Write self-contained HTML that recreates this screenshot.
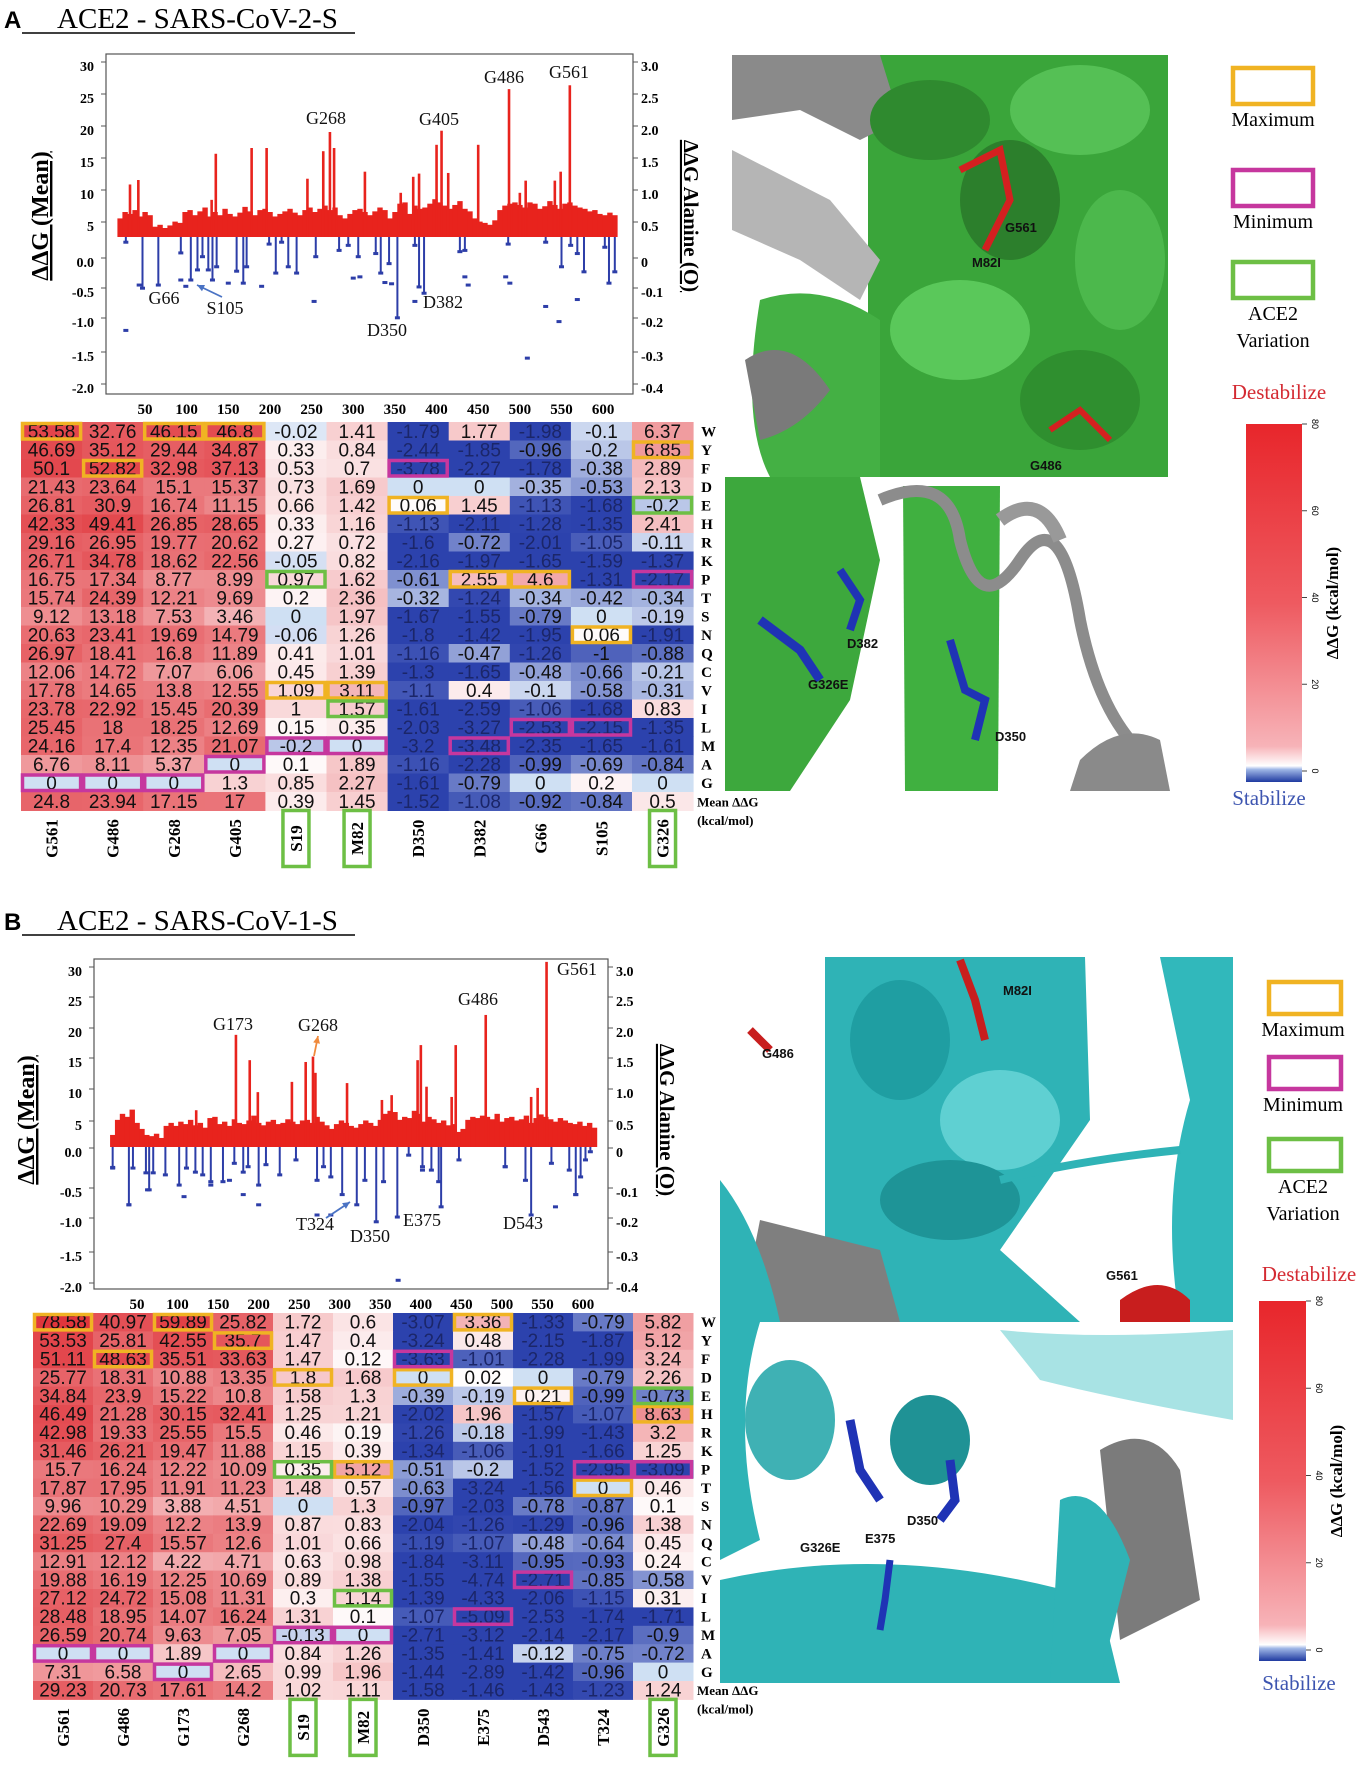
<!DOCTYPE html>
<html><head><meta charset="utf-8">
<style>
html,body{margin:0;padding:0;background:#fff;}
svg{display:block;}
.serif{font-family:"Liberation Serif",serif;}
.sans{font-family:"Liberation Sans",sans-serif;}
</style></head>
<body>
<svg id="fig" width="1361" height="1772" viewBox="0 0 1361 1772" xmlns="http://www.w3.org/2000/svg">
<defs>
<linearGradient id="cbar" x1="0" y1="0" x2="0" y2="1">
<stop offset="0" stop-color="#e8262b"/><stop offset="0.5" stop-color="#ee5a60"/><stop offset="0.9" stop-color="#f7b3b8"/><stop offset="0.955" stop-color="#ffffff"/><stop offset="0.965" stop-color="#9fb6e6"/><stop offset="1" stop-color="#1f3aa0"/>
</linearGradient>
</defs>
<g id="imgA">
<rect x="732" y="55" width="436" height="422" fill="#ffffff"/>
<rect x="868" y="55" width="300" height="422" fill="#3aa53a"/>
<path d="M732 55 L880 55 L900 120 L860 140 L800 110 L732 120 Z" fill="#8a8a8a"/>
<path d="M732 150 L830 200 L880 260 L860 300 L800 260 L732 230 Z" fill="#b5b5b5"/>
<path d="M760 300 Q820 280 880 320 L880 477 L770 477 Q740 420 760 300 Z" fill="#44b044"/>
<path d="M745 360 Q790 330 830 390 Q800 430 760 440 Z" fill="#7a7a7a"/>
<ellipse cx="930" cy="120" rx="60" ry="40" fill="#2f8a2f"/>
<ellipse cx="1080" cy="110" rx="70" ry="45" fill="#55c055"/>
<ellipse cx="1010" cy="200" rx="50" ry="60" fill="#2c7f2c"/>
<ellipse cx="1120" cy="260" rx="45" ry="70" fill="#4cb84c"/>
<ellipse cx="960" cy="330" rx="70" ry="50" fill="#5ac85a"/>
<ellipse cx="1080" cy="400" rx="60" ry="50" fill="#2f8f2f"/>
<path d="M960 170 L1000 150 L1010 200 L985 250" stroke="#d42020" stroke-width="7" fill="none"/>
<path d="M1050 430 L1080 410 L1110 440" stroke="#d42020" stroke-width="6" fill="none"/>
<text x="972" y="267" class="sans" font-size="13" font-weight="bold" fill="#111">M82I</text>
<text x="1005" y="232" class="sans" font-size="13" font-weight="bold" fill="#111">G561</text>
<text x="1030" y="470" class="sans" font-size="13" font-weight="bold" fill="#111">G486</text>
<rect x="725" y="477" width="464" height="314" fill="#ffffff"/>
<path d="M725 477 L860 477 L880 560 L850 700 L790 791 L725 791 Z" fill="#3da83d"/>
<path d="M903 486 L1000 486 L998 791 L905 791 Z" fill="#40b040"/>
<path d="M880 500 Q950 470 960 540 Q980 620 1020 560 Q1060 500 1080 620 Q1100 720 1150 760" stroke="#8c8c8c" stroke-width="12" fill="none"/>
<path d="M1000 520 Q1040 490 1060 540" stroke="#999" stroke-width="14" fill="none"/>
<path d="M1080 760 Q1120 720 1160 740 L1170 791 L1070 791 Z" fill="#8a8a8a"/>
<path d="M840 570 L860 600 L850 630" stroke="#1f33b5" stroke-width="8" fill="none"/>
<path d="M760 620 L800 650 L820 680" stroke="#1f33b5" stroke-width="9" fill="none"/>
<path d="M950 640 L965 690 L985 700 L975 740" stroke="#1f33b5" stroke-width="8" fill="none"/>
<text x="847" y="648" class="sans" font-size="13" font-weight="bold" fill="#111">D382</text>
<text x="808" y="689" class="sans" font-size="13" font-weight="bold" fill="#111">G326E</text>
<text x="995" y="741" class="sans" font-size="13" font-weight="bold" fill="#111">D350</text>
</g>
<g id="imgB">
<rect x="720" y="957" width="513" height="365" fill="#ffffff"/>
<path d="M825 957 L1085 957 L1090 1120 L1000 1250 L1080 1322 L825 1322 Z" fill="#2fb3b6"/>
<ellipse cx="900" cy="1040" rx="50" ry="60" fill="#1f9ea2"/>
<ellipse cx="1000" cy="1120" rx="60" ry="50" fill="#5fd0d2"/>
<ellipse cx="950" cy="1200" rx="70" ry="40" fill="#1e9497"/>
<path d="M1160 957 L1233 957 L1233 1322 L1180 1322 Q1160 1200 1190 1100 Z" fill="#31b8bb"/>
<path d="M1000 1180 Q1080 1160 1180 1150" stroke="#2fb3b6" stroke-width="8" fill="none"/>
<path d="M760 1220 L880 1250 L900 1322 L740 1322 Z" fill="#7f7f7f"/>
<path d="M720 1180 Q760 1230 780 1322 L720 1322 Z" fill="#2fb3b6"/>
<path d="M1120 1300 Q1160 1270 1190 1300 L1190 1322 L1120 1322 Z" fill="#c81e1e"/>
<path d="M960 960 L975 1000 L985 1040" stroke="#c81e1e" stroke-width="8" fill="none"/>
<path d="M750 1030 L770 1050" stroke="#c81e1e" stroke-width="8" fill="none"/>
<text x="1003" y="995" class="sans" font-size="13" font-weight="bold" fill="#111">M82I</text>
<text x="762" y="1058" class="sans" font-size="13" font-weight="bold" fill="#111">G486</text>
<text x="1106" y="1280" class="sans" font-size="13" font-weight="bold" fill="#111">G561</text>
<rect x="720" y="1322" width="513" height="361" fill="#ffffff"/>
<path d="M720 1322 L760 1322 Q730 1420 760 1540 L720 1560 Z" fill="#2fb3b6"/>
<path d="M720 1580 Q900 1540 1100 1600 L1120 1683 L720 1683 Z" fill="#2fb3b6"/>
<ellipse cx="790" cy="1420" rx="45" ry="60" fill="#2aa9ac" fill-opacity="0.9"/>
<ellipse cx="930" cy="1440" rx="40" ry="45" fill="#1f9295"/>
<path d="M1000 1330 Q1100 1340 1233 1330 L1233 1420 Q1120 1400 1040 1380 Z" fill="#a8e3e4"/>
<path d="M1100 1450 Q1150 1420 1180 1470 L1200 1600 L1120 1640 Z" fill="#7b7b7b"/>
<path d="M1060 1500 Q1100 1480 1130 1560 L1100 1680 L1050 1683 Z" fill="#2fb3b6"/>
<path d="M850 1420 L860 1470 L880 1500" stroke="#1f33b5" stroke-width="9" fill="none"/>
<path d="M950 1460 L955 1500 L940 1520" stroke="#1f33b5" stroke-width="9" fill="none"/>
<path d="M890 1560 L885 1600 L880 1630" stroke="#1f33b5" stroke-width="7" fill="none"/>
<text x="800" y="1552" class="sans" font-size="13" font-weight="bold" fill="#111">G326E</text>
<text x="907" y="1525" class="sans" font-size="13" font-weight="bold" fill="#111">D350</text>
<text x="865" y="1543" class="sans" font-size="13" font-weight="bold" fill="#111">E375</text>
</g>
</svg>
<script>
const NS='http://www.w3.org/2000/svg';
const svg=document.getElementById('fig');
function mk(tag,attrs,parent){const e=document.createElementNS(NS,tag);for(const k in attrs)e.setAttribute(k,attrs[k]);(parent||svg).appendChild(e);return e;}
function txt(str,attrs,parent){const e=mk('text',attrs,parent);e.textContent=str;return e;}

// ---------- DATA ----------
const rowLabels=['W','Y','F','D','E','H','R','K','P','T','S','N','Q','C','V','I','L','M','A','G'];
const colsA=['G561','G486','G268','G405','S19','M82','D350','D382','G66','S105','G326'];
const colsB=['G561','G486','G173','G268','S19','M82','D350','E375','D543','T324','G326'];
const heatA=[
[53.58,32.76,46.15,46.8,-0.02,1.41,-1.79,1.77,-1.98,-0.1,6.37],
[46.69,35.12,29.44,34.87,0.33,0.84,-2.44,-1.85,-0.96,-0.2,6.85],
[50.1,52.82,32.98,37.13,0.53,0.7,-3.78,-2.27,-1.78,-0.38,2.89],
[21.43,23.64,15.1,15.37,0.73,1.69,0,0,-0.35,-0.53,2.13],
[26.81,30.9,16.74,11.15,0.66,1.42,0.06,1.45,-1.13,-1.68,-0.2],
[42.33,49.41,26.85,28.65,0.33,1.16,-1.13,-2.11,-1.28,-1.35,2.41],
[29.16,26.95,19.77,20.62,0.27,0.72,-1.6,-0.72,-2.01,-1.05,-0.11],
[26.71,34.78,18.62,22.56,-0.05,0.82,-2.16,-1.97,-1.65,-1.59,-1.37],
[16.75,17.34,8.77,8.99,0.97,1.62,-0.61,2.55,4.6,-1.31,-2.17],
[15.74,24.39,12.21,9.69,0.2,2.36,-0.32,-1.24,-0.34,-0.42,-0.34],
[9.12,13.18,7.53,3.46,0,1.97,-1.67,-1.55,-0.79,0,-0.19],
[20.63,23.41,19.69,14.79,-0.06,1.26,-1.8,-1.42,-1.95,0.06,-1.91],
[26.97,18.41,16.8,11.89,0.41,1.01,-1.16,-0.47,-1.26,-1,-0.88],
[12.06,14.72,7.07,6.06,0.45,1.39,-1.3,-1.65,-0.48,-0.66,-0.21],
[17.78,14.65,13.8,12.55,1.09,3.11,-1.1,0.4,-0.1,-0.58,-0.31],
[23.78,22.92,15.45,20.39,1,1.57,-1.61,-2.59,-1.06,-1.68,0.83],
[25.45,18,18.25,12.69,0.15,0.35,-2.03,-3.27,-2.53,-2.15,-1.35],
[24.16,17.4,12.35,21.07,-0.2,0,-3.2,-3.48,-2.35,-1.65,-1.61],
[6.76,8.11,5.37,0,0.1,1.89,-1.16,-2.28,-0.99,-0.69,-0.84],
[0,0,0,1.3,0.85,2.27,-1.61,-0.79,0,0.2,0]];
const meanA=[24.8,23.94,17.15,17,0.39,1.45,-1.52,-1.08,-0.92,-0.84,0.5];
const heatB=[
[78.58,40.97,59.89,25.82,1.72,0.6,-3.07,3.36,-1.33,-0.79,5.82],
[53.53,25.81,42.55,35.7,1.47,0.4,-3.24,0.48,-2.15,-1.87,5.12],
[51.11,48.63,35.51,33.63,1.47,0.12,-3.63,-1.01,-2.28,-1.99,3.24],
[25.77,18.31,10.88,13.35,1.8,1.68,0,0.02,0,-0.79,2.26],
[34.84,23.9,15.22,10.8,1.58,1.3,-0.39,-0.19,0.21,-0.99,-0.73],
[46.49,21.28,30.15,32.41,1.25,1.21,-2.02,1.96,-1.57,-1.07,8.63],
[42.98,19.33,25.55,15.5,0.46,0.19,-1.26,-0.18,-1.99,-1.43,3.2],
[31.46,26.21,19.47,11.88,1.15,0.39,-1.34,-1.06,-1.91,-1.66,1.25],
[15.7,16.24,12.22,10.09,0.35,5.12,-0.51,-0.2,-1.52,-2.95,-3.09],
[17.87,17.95,11.91,11.23,1.48,0.57,-0.63,-3.24,-1.56,0,0.46],
[9.96,10.29,3.88,4.51,0,1.3,-0.97,-2.03,-0.78,-0.87,0.1],
[22.69,19.09,12.2,13.9,0.87,0.83,-2.04,-1.26,-1.29,-0.96,1.38],
[31.25,27.4,15.57,12.6,1.01,0.66,-1.19,-1.07,-0.48,-0.64,0.45],
[12.91,12.12,4.22,4.71,0.63,0.98,-1.84,-3.11,-0.95,-0.93,0.24],
[19.88,16.19,12.25,10.69,0.89,1.38,-1.55,-4.74,-2.71,-0.85,-0.58],
[27.12,24.72,15.08,11.31,0.3,1.14,-1.39,-4.33,-2.06,-1.15,0.31],
[28.48,18.95,14.07,16.24,1.31,0.1,-1.07,-5.09,-2.53,-1.74,-1.71],
[26.59,20.74,9.63,7.05,-0.13,0,-2.71,-3.12,-2.14,-2.17,-0.9],
[0,0,1.89,0,0.84,1.26,-1.35,-1.41,-0.12,-0.75,-0.72],
[7.31,6.58,0,2.65,0.99,1.96,-1.44,-2.89,-1.42,-0.96,0]];
const meanB=[29.23,20.73,17.61,14.2,1.02,1.11,-1.58,-1.46,-1.43,-1.23,1.24];
const maxBoxA=[[0,0],[0,2],[0,3],[1,10],[2,1],[4,6],[8,7],[8,8],[11,9],[14,4],[14,5]];
const minBoxA=[[2,6],[8,10],[16,8],[16,9],[17,4],[17,5],[17,7],[18,3],[19,0],[19,1],[19,2]];
const varBoxA=[[4,10],[8,4],[15,5]];
const maxBoxB=[[0,0],[0,2],[0,7],[1,3],[2,1],[3,4],[3,6],[4,8],[5,10],[8,5],[9,9]];
const minBoxB=[[2,6],[8,9],[8,10],[14,8],[16,7],[17,4],[17,5],[18,0],[18,1],[18,3],[19,2]];
const varBoxB=[[4,10],[8,4],[15,5]];

const xTicks=[50,100,150,200,250,300,350,400,450,500,550,600];
const leftTickLabels=['30','25','20','15','10','5','0.0','-0.5','-1.0','-1.5','-2.0'];
const rightTickLabels=['3.0','2.5','2.0','1.5','1.0','0.5','0','-0.1','-0.2','-0.3','-0.4'];

const redBgA=[6.5,7.5,7.2,7.8,6.8,7.5,7.0, 5.2,5.5,5.0,5.4,6.0,5.8,
7.5,7.8,7.0,7.6,8.2,6.8,7.5,7.0,8.0,7.2,6.8,7.4,8.3,7.6,7.0,7.8,8.0,7.5,6.8,7.2,7.6,8.0,7.4,7.0,7.8,8.2,7.5,
8.0,8.5,7.8,8.2,7.0,6.5,7.2,7.8,8.0,7.5,7.0,7.6,8.2,7.8,
6.5,7.5,8.8,9.0,7.2,8.5,8.0, 8.2,8.8,9.5,9.0,8.5,8.0,8.6,9.2,8.0,7.6,
6.5,6.0,5.8,5.5,6.2,7.8,
8.5,8.8,9.0,8.6,8.2,9.0,8.8,8.0,8.4,9.2,8.6,8.0,8.8,9.0,8.5,8.2,8.0,7.6,7.8,7.2, 7.0,7.4,7.0];
const spikeResA=[32,42,130,135,178,196,245,264,272,277,314,357,372,379,400,406,414,450,487,500,507,542,549,560];
const spikeValA=[11.8,12.5,9.4,16.6,17.5,17.5,12.7,17,20,17.5,13.8,10.5,13,13.5,18,20.2,13.6,18,26.7,10.5,12.4,12.4,13.8,27.3];
const blueResA=[27,47,66,93,105,113,119,126,131,136,160,168,172,199,207,214,222,232,255,283,294,306,327,333,343,353,374,379,385,428,434,486,531,550,561,569,577,602,607,614];
const blueValA=[0.33,-0.40,-0.35,0.16,-0.27,-0.11,0.1,-0.11,-0.27,-0.06,-0.13,-0.32,-0.06,0.3,-0.16,0.33,-0.06,-0.16,0.1,0.2,0.28,0.1,0.15,-0.16,-0.01,-0.87,0.28,-0.38,-0.48,0.18,0.2,0.3,0.33,-0.06,0.28,0.15,-0.14,0.25,-0.32,-0.14];
const dotResA=[27,43,93,99,150,190,253,300,308,338,346,374,434,438,483,488,509,531,547,569];
const dotValA=[-1.07,-0.35,-0.27,-0.37,-0.32,-0.37,-0.61,-0.24,-0.22,-0.31,-0.33,-0.61,-0.22,-0.35,-0.22,-0.32,-1.51,-0.69,-0.93,-0.58];

const redBgB=[2.0,4.5,5.5,5.0,6.2,4.0,3.0, 2.0,1.8,2.2,1.5,3.5,4.0,
3.5,4.2,3.8,4.5,3.6,4.0,3.2,4.8,5.0,3.8,4.2,3.5,4.6,4.0,3.8,4.4,5.2,4.0,3.6,4.2,4.5,3.8,4.0,4.6,4.2,3.8,4.4,
4.5,4.0,5.0,4.2,3.6,3.0,3.8,4.4,4.0,3.5,3.2,3.8,4.4,4.0,
3.5,4.5,5.5,6.0,5.8,4.5,5.0, 4.8,6.0,5.5,4.2,5.0,4.6,4.0,4.4,3.6,3.8,
2.5,3.0,4.5,5.0,4.8,5.2,
5.0,4.6,5.5,4.2,4.8,5.0,4.4,4.6,5.2,4.0,4.8,5.4,5.0,4.6,4.2,4.8,4.4,4.0,3.8,4.2, 3.5,4.0,3.2];
const spikeResB=[123,172,189,199,241,258,267,270,309,352,364,396,400,407,438,443,480,536,544,555];
const spikeValB=[6.1,18.6,14.4,9.1,10.8,14.1,15,12.3,10.6,7.8,8.6,14.4,16.9,10,8.3,16.9,21.9,8.3,9.8,30.7];
const blueResB=[20,40,45,61,65,70,85,102,111,122,131,141,156,170,181,187,200,209,226,246,272,280,289,303,321,331,345,354,371,385,402,413,422,425,447,504,529,536,561,583,591,597,603,609];
const blueValB=[-0.31,-0.85,-0.31,-0.38,-0.63,-0.38,-0.41,-0.56,-0.31,-0.37,-0.41,-0.51,-0.51,-0.24,-0.37,-0.29,-0.56,-0.26,-0.41,-0.19,-0.49,-0.29,-0.44,-0.7,-0.85,-0.49,-1.1,-0.51,-1.03,-0.12,-0.29,-0.34,-0.51,-0.88,-0.19,-0.29,-0.49,-1.0,-0.24,-0.34,-0.7,-0.44,-0.19,-0.07];
const dotResB=[20,40,63,108,141,164,181,200,272,289,372,402,504,566,591];
const dotValB=[-0.3,-0.85,-0.63,-0.73,-0.56,-0.49,-0.7,-0.85,-1.0,-1.0,-1.96,-0.34,-0.29,-0.88,-0.7];

// ---------- helpers ----------
function mix(a,b,t){const p=s=>[parseInt(s.slice(1,3),16),parseInt(s.slice(3,5),16),parseInt(s.slice(5,7),16)];const A=p(a),B=p(b);return 'rgb('+A.map((v,i)=>Math.round(v+(B[i]-v)*t)).join(',')+')';}
function cellColor(v){
  if(v===0) return '#cfe0f3';
  if(v>0){const t=Math.min(1,Math.log(1+v)/Math.log(81));return mix('#ffffff','#e0353b',Math.pow(t,0.9));}
  const t=Math.min(1,Math.pow(Math.abs(v)/1.3,0.8));return mix('#e3edf9','#2c42ad',t);
}

function drawTitle(letter,label,y,name){
  const t1=txt(letter,{x:4,y:y,'font-family':'Liberation Sans, sans-serif','font-size':24,'font-weight':'bold',fill:'#000'});
  
  
  const t2=txt(label,{x:57,y:y,'font-family':'Liberation Serif, serif','font-size':29,fill:'#000'});
  
  
  const u=mk('line',{x1:22,x2:355,y1:y+5,y2:y+5,stroke:'#000','stroke-width':1.6});
  
  
}

function drawChart(cfg){
  const g=mk('g',{});
  
  
  const xs=r=>cfg.x50+(r-50)*cfg.pxr;
  const frame=mk('rect',{x:cfg.L,y:cfg.T,width:cfg.R-cfg.L,height:cfg.B-cfg.T,fill:'none',stroke:'#555','stroke-width':1.2},g);
  
  
  // red background bars
  redBgIter(cfg,g,xs);
  // spikes
  cfg.spikeRes.forEach((r,i)=>{
    const y=cfg.yRed(cfg.spikeVal[i]);
    const b=mk('rect',{x:xs(r)-1.3,y:y,width:2.6,height:cfg.base-y,fill:'#e8231d'},g);
    
    
  });
  // blue bars
  cfg.blueRes.forEach((r,i)=>{
    const y=cfg.yBlue(cfg.blueVal[i]);
    const b=mk('rect',{x:xs(r)-1,y:cfg.base,width:2,height:Math.max(1,y-cfg.base),fill:'#2d3ea8'},g);
    
    
    const d=mk('rect',{x:xs(r)-2.5,y:y-1.5,width:5,height:3,fill:'#2d3ea8'},g);
    
    
  });
  cfg.dotRes.forEach((r,i)=>{
    const d=mk('rect',{x:xs(r)-2.5,y:cfg.yBlue(cfg.dotVal[i])-1.5,width:5,height:3,fill:'#2d3ea8'},g);
    
    
  });
  // ticks
  leftTickLabels.forEach((s,i)=>{
    const y=cfg.tickY[i];
    const t=txt(s,{x:cfg.L-12,y:y+5,'text-anchor':'end','font-family':'Liberation Serif, serif','font-size':14,'font-weight':'bold'},g);
    
    
    const tk=mk('line',{x1:cfg.L-5,x2:cfg.L,y1:y-4,y2:y-4,stroke:'#555'},g);
    
    
  });
  rightTickLabels.forEach((s,i)=>{
    const y=cfg.tickY[i];
    const t=txt(s,{x:cfg.R+8,y:y+5,'font-family':'Liberation Serif, serif','font-size':14,'font-weight':'bold'},g);
    
    
    const tk=mk('line',{x1:cfg.R,x2:cfg.R+5,y1:y-4,y2:y-4,stroke:'#555'},g);
    
    
  });
  xTicks.forEach(v=>{
    const t=txt(String(v),{x:xs(v),y:cfg.B+20,'text-anchor':'middle','font-family':'Liberation Serif, serif','font-size':15,'font-weight':'bold'},g);
    
    
  });
  const yt=txt('ΔΔG (Mean)',{x:0,y:0,transform:'translate('+cfg.ltx+','+cfg.lty+') rotate(-90)','text-anchor':'middle','font-family':'Liberation Serif, serif','font-size':24,'font-weight':'bold','text-decoration':'underline'},g);
  
  
  const yt2=txt('ΔΔG Alanine (O)',{x:0,y:0,transform:'translate('+cfg.rtx+','+cfg.lty+') rotate(90)','text-anchor':'middle','font-family':'Liberation Serif, serif','font-size':21,'font-weight':'bold','text-decoration':'underline'},g);
  
  
  cfg.labels.forEach(l=>{
    const t=txt(l[0],{x:l[1],y:l[2],'text-anchor':'middle','font-family':'Liberation Serif, serif','font-size':18,fill:'#111'},g);
    
    
  });
  cfg.arrows.forEach(a=>{
    const ln=mk('line',{x1:a[0],y1:a[1],x2:a[2],y2:a[3],stroke:a[4],'stroke-width':1.8},g);
    
    
    const ang=Math.atan2(a[3]-a[1],a[2]-a[0]);
    const p=[[a[2],a[3]],[a[2]-8*Math.cos(ang-0.45),a[3]-8*Math.sin(ang-0.45)],[a[2]-8*Math.cos(ang+0.45),a[3]-8*Math.sin(ang+0.45)]];
    const h=mk('polygon',{points:p.map(q=>q.join(',')).join(' '),fill:a[4]},g);
    
    
  });
}
function redBgIter(cfg,g,xs){
  cfg.redBg.forEach((v,i)=>{
    const r=20+i*6;
    const y=cfg.yRed(v);
    const b=mk('rect',{x:xs(r)-2.6,y:y,width:5.4,height:cfg.base-y,fill:'#e8231d'},g);
    
    
  });
}

function drawHeat(cfg){
  const g=mk('g',{});
  
  
  const rows=cfg.data.concat([cfg.mean]);
  rows.forEach((row,ri)=>{
    row.forEach((v,ci)=>{
      const x=cfg.x0+ci*cfg.cw, y=cfg.y0+ri*cfg.rh;
      const c=mk('rect',{x:x,y:y,width:cfg.cw+0.5,height:cfg.rh+0.5,fill:cellColor(v)},g);
      
      
      const dark=v< -1.0;
      const t=txt(String(v),{x:x+cfg.cw/2,y:y+cfg.rh/2+6.5,'text-anchor':'middle','font-family':'Liberation Sans, sans-serif','font-size':19,fill:dark?'#1b2669':'#111'},g);
      
      
    });
  });
  rowLabels.forEach((s,ri)=>{
    const t=txt(s,{x:cfg.x0+11*cfg.cw+8,y:cfg.y0+ri*cfg.rh+cfg.rh/2+5,'font-family':'Liberation Serif, serif','font-size':15,'font-weight':'bold'},g);
    
    
  });
  const m1=txt('Mean ΔΔG',{x:cfg.x0+11*cfg.cw+4,y:cfg.y0+20*cfg.rh+cfg.rh/2+5,'font-family':'Liberation Serif, serif','font-size':13,'font-weight':'bold'},g);
  
  
  const m2=txt('(kcal/mol)',{x:cfg.x0+11*cfg.cw+4,y:cfg.y0+21*cfg.rh+cfg.rh/2+5,'font-family':'Liberation Serif, serif','font-size':13,'font-weight':'bold'},g);
  
  
  cfg.cols.forEach((s,ci)=>{
    const cx=cfg.x0+ci*cfg.cw+cfg.cw/2, cy=cfg.y0+21*cfg.rh+28;
    const t=txt(s,{x:0,y:0,transform:'translate('+(cx+6)+','+cy+') rotate(-90)','text-anchor':'middle','font-family':'Liberation Serif, serif','font-size':17,'font-weight':'bold'},g);
    
    
    if(ci===4||ci===5||ci===10){
      const b=mk('rect',{x:cx-13,y:cy-28,width:26,height:56,fill:'none',stroke:'#6dbf45','stroke-width':3.5},g);
      
      
    }
  });
  const boxes=[[cfg.maxB,'#f0b323','max-box'],[cfg.minB,'#c6379e','min-box'],[cfg.varB,'#6dbf45','variation-box']];
  boxes.forEach(set=>{
    set[0].forEach(p=>{
      const b=mk('rect',{x:cfg.x0+p[1]*cfg.cw+1.5,y:cfg.y0+p[0]*cfg.rh+1.5,width:cfg.cw-3,height:cfg.rh-3,fill:'none',stroke:set[1],'stroke-width':3.5},g);
      
      
    });
  });
}

function drawLegend(cfg){
  const g=mk('g',{});
  
  
  const items=[['#f0b323','Maximum',null,cfg.maxY],['#c6379e','Minimum',null,cfg.minY],['#6dbf45','ACE2','Variation',cfg.varY]];
  items.forEach(it=>{
    const b=mk('rect',{x:cfg.bx,y:it[3],width:cfg.bw,height:cfg.bh,fill:'#fff',stroke:it[0],'stroke-width':4.5},g);
    
    
    const t=txt(it[1],{x:cfg.cx,y:it[3]+cfg.bh+cfg.tgap,'text-anchor':'middle','font-family':'Liberation Serif, serif','font-size':20},g);
    
    
    if(it[2]){
      const t2=txt(it[2],{x:cfg.cx,y:it[3]+cfg.bh+cfg.tgap+27,'text-anchor':'middle','font-family':'Liberation Serif, serif','font-size':20},g);
      
      
    }
  });
  const d=txt('Destabilize',{x:cfg.cx+6,y:cfg.destY,'text-anchor':'middle','font-family':'Liberation Serif, serif','font-size':21,fill:'#d42a32'},g);
  
  
  const cb=mk('rect',{x:cfg.cbx,y:cfg.cbt,width:cfg.cbw,height:cfg.cbb-cfg.cbt,fill:'url(#cbar)'},g);
  
  
  [0,20,40,60,80].forEach(v=>{
    const y=cfg.cbz-(cfg.cbz-cfg.cbt)*v/80;
    const tk=mk('line',{x1:cfg.cbx+cfg.cbw,x2:cfg.cbx+cfg.cbw+5,y1:y,y2:y,stroke:'#444'},g);
    
    
    const t=txt(String(v),{x:0,y:0,transform:'translate('+(cfg.cbx+cfg.cbw+10)+','+y+') rotate(90)','text-anchor':'middle','font-family':'Liberation Sans, sans-serif','font-size':9},g);
    
    
  });
  const at=txt('ΔΔG (kcal/mol)',{x:0,y:0,transform:'translate('+(cfg.cbx+cfg.cbw+36)+','+((cfg.cbt+cfg.cbb)/2)+') rotate(-90)','text-anchor':'middle','font-family':'Liberation Serif, serif','font-size':17,'font-weight':'bold'},g);
  
  
  const s=txt('Stabilize',{x:cfg.cx-4,y:cfg.stabY,'text-anchor':'middle','font-family':'Liberation Serif, serif','font-size':21,fill:'#3d55b0'},g);
  
  
}

// ---------- PANEL A ----------
drawTitle('A','ACE2 - SARS-CoV-2-S',28,'panel-a');
drawChart({name:'chart-a',L:106,R:633,T:54,B:394,base:237,x50:145,pxr:0.833,
  yRed:v=>228-(v-5)*6.4, yBlue:v=>263-v*63,
  redBg:redBgA,spikeRes:spikeResA,spikeVal:spikeValA,blueRes:blueResA,blueVal:blueValA,dotRes:dotResA,dotVal:dotValA,
  tickY:[66,98,130,162,194,226,262,292,322,356,388],ltx:48,lty:216,rtx:684,
  labels:[['G268',326,124],['G405',439,125],['G486',504,83],['G561',569,78],['G66',164,304],['S105',225,314],['D350',387,336],['D382',443,308]],
  arrows:[[222,297,197,285,'#4a73c4']]});
drawHeat({name:'heatmap-a',x0:21,y0:422,cw:61.1,rh:18.5,data:heatA,mean:meanA,cols:colsA,maxB:maxBoxA,minB:minBoxA,varB:varBoxA});
drawLegend({name:'legend-a',bx:1233,bw:80,bh:36,cx:1273,maxY:68,minY:170,varY:262,tgap:22,destY:399,cbx:1246,cbw:56,cbt:424,cbb:782,cbz:771,stabY:805});

// ---------- PANEL B ----------
drawTitle('B','ACE2 - SARS-CoV-1-S',930,'panel-b');
drawChart({name:'chart-b',L:94,R:608,T:959,B:1289,base:1147,x50:137,pxr:0.811,
  yRed:v=>1147-v*6.03, yBlue:v=>1147-v*68,
  redBg:redBgB,spikeRes:spikeResB,spikeVal:spikeValB,blueRes:blueResB,blueVal:blueValB,dotRes:dotResB,dotVal:dotValB,
  tickY:[971,1001,1032,1062,1093,1125,1152,1192,1222,1256,1287],ltx:34,lty:1120,rtx:660,
  labels:[['G173',233,1030],['G268',318,1031],['G486',478,1005],['G561',577,975],['T324',315,1230],['D350',370,1242],['E375',422,1226],['D543',523,1229]],
  arrows:[[314,1056,318,1036,'#f08a3c'],[326,1218,350,1202,'#4a73c4']]});
drawHeat({name:'heatmap-b',x0:33,y0:1313,cw:60,rh:18.4,data:heatB,mean:meanB,cols:colsB,maxB:maxBoxB,minB:minBoxB,varB:varBoxB});
drawLegend({name:'legend-b',bx:1269,bw:72,bh:32,cx:1303,maxY:982,minY:1057,varY:1139,tgap:22,destY:1281,cbx:1259,cbw:47,cbt:1301,cbb:1661,cbz:1650,stabY:1690});
</script>
</body></html>
